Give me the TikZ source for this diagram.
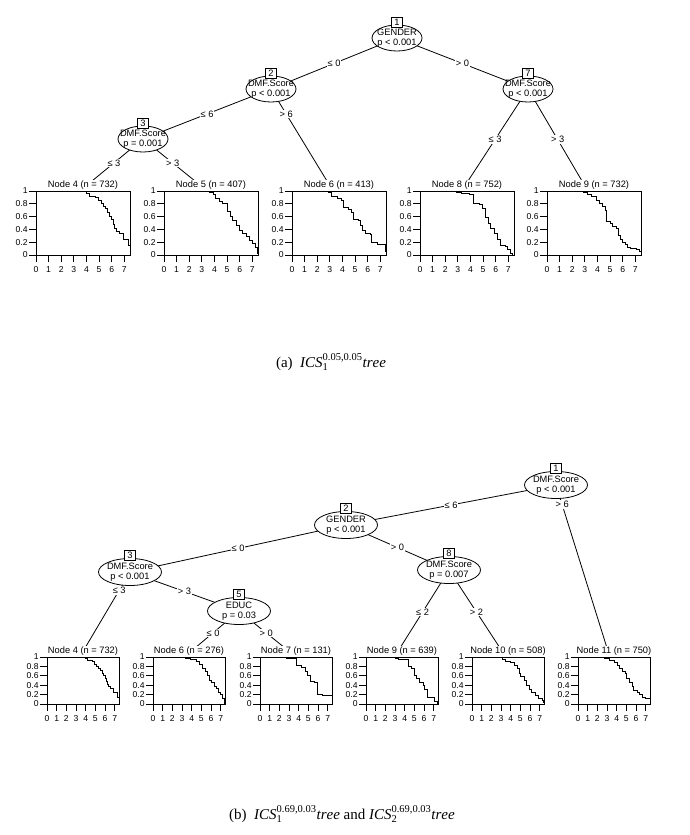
\documentclass[tikz,border=0pt]{standalone}
\usepackage{fontspec}
\setmainfont{Liberation Serif}
\setsansfont{Liberation Sans}
\usetikzlibrary{shapes.geometric,backgrounds}

\newcommand{\capsub}{\fontsize{10.5}{12}\selectfont}
\newcommand{\kmpanel}[7]{%
    \pgfmathsetmacro{\kmunit}{#4/7.45}%
    \begin{scope}[shift={(#2,#3)},x=\kmunit pt,y=#5pt]
        \draw[kmbox] (0,0) rectangle (7.45,1);
        \draw[kmline,const plot] plot coordinates {#7};
        \node[kmtitle,anchor=south] (#1) at (3.725,1) {#6};
        \foreach \tk in {0,...,7}
            \draw[kmbox] (\tk,0) -- ++(0,-7pt) node[kmtick,below=3pt] (#1x\tk) {\tk};
        \foreach \yv/\yk in {0/0,0.2/1,0.4/2,0.6/3,0.8/4,1/5}
            \draw[kmbox] (0,\yv) -- ++(-7pt,0) node[kmtick,left] (#1y\yk) {\yv};
    \end{scope}}

\begin{document}
\begin{tikzpicture}[x=1pt,y=-1pt,
        splitnode/.style={ellipse,draw,fill=white,line width=0.8pt,inner xsep=-10pt,inner ysep=-1pt,align=center,font=\sffamily\fontsize{9.3}{10}\selectfont},
        numbox/.style={draw,fill=white,line width=0.8pt,minimum width=11pt,minimum height=10pt,inner sep=0pt,font=\sffamily\fontsize{9.3}{10}\selectfont},
        elab/.style={fill=white,inner sep=1pt,font=\sffamily\fontsize{9.3}{10}\selectfont},
        edge/.style={line width=0.8pt},
        kmbox/.style={line width=0.8pt},
        kmline/.style={line width=0.9pt},
        kmtitle/.style={fill=white,inner sep=1pt,font=\sffamily\fontsize{9.3}{10}\selectfont},
        kmtick/.style={inner sep=1pt,font=\sffamily\fontsize{8.6}{9}\selectfont},
        capt/.style={inner sep=0pt,font=\fontsize{15}{18}\selectfont}]
    \useasboundingbox (0,0) rectangle (689,835);

    \node[splitnode,minimum width=50pt,minimum height=26pt] (a1) at (397,38) {GENDER\\p < 0.001};
    \node[splitnode,minimum width=50pt,minimum height=26pt] (a2) at (271,89) {DMF.Score\\p < 0.001};
    \node[splitnode,minimum width=50pt,minimum height=26pt] (a7) at (528,89) {DMF.Score\\p < 0.001};
    \node[splitnode,minimum width=50pt,minimum height=26pt] (a3) at (143,139) {DMF.Score\\p = 0.001};
    \node[numbox,anchor=south] (a1n) at ([yshift=-3pt]a1.north) {1};
    \node[numbox,anchor=south] (a2n) at ([yshift=-3pt]a2.north) {2};
    \node[numbox,anchor=south] (a7n) at ([yshift=-3pt]a7.north) {7};
    \node[numbox,anchor=south] (a3n) at ([yshift=-3pt]a3.north) {3};
    \coordinate (ae4) at (92,181);
    \coordinate (ae5) at (195,181);
    \coordinate (ae6) at (327,181);
    \coordinate (ae8) at (468,181);
    \coordinate (ae9) at (582,181);

    \kmpanel{at4}{36}{255}{94}{64}{Node 4 (n = 732)}{(0,1) (3.6,0.99) (4.0,0.96) (4.2,0.92) (4.7,0.9) (4.95,0.85) (5.15,0.8) (5.35,0.76) (5.5,0.72) (5.7,0.66) (5.85,0.6) (6.0,0.55) (6.1,0.48) (6.25,0.41) (6.4,0.37) (6.6,0.33) (6.9,0.25) (7.3,0.15) (7.45,0.15)}
    \kmpanel{at5}{164}{255}{94}{64}{Node 5 (n = 407)}{(0,1) (2.75,0.99) (3.6,0.97) (3.95,0.94) (4.1,0.89) (4.4,0.84) (4.65,0.8) (5.05,0.68) (5.3,0.6) (5.45,0.54) (5.75,0.46) (5.95,0.38) (6.25,0.33) (6.5,0.29) (6.75,0.22) (7.0,0.18) (7.25,0.12) (7.38,0.03) (7.45,0.03)}
    \kmpanel{at6}{292}{255}{94}{64}{Node 6 (n = 413)}{(0,1) (2.85,0.97) (3.1,0.92) (3.6,0.88) (3.95,0.86) (4.1,0.74) (4.5,0.71) (4.75,0.66) (4.9,0.56) (5.3,0.54) (5.4,0.46) (5.6,0.38) (5.85,0.33) (6.25,0.32) (6.3,0.2) (6.8,0.17) (7.35,0.16) (7.42,0.05) (7.45,0.05)}
    \kmpanel{at8}{420}{255}{94}{64}{Node 8 (n = 752)}{(0,1) (2.9,0.98) (3.3,0.96) (3.9,0.95) (4.25,0.8) (4.7,0.79) (4.95,0.72) (5.15,0.58) (5.4,0.5) (5.55,0.42) (5.9,0.33) (6.1,0.24) (6.4,0.15) (6.8,0.13) (6.95,0.08) (7.15,0.03) (7.35,0.0) (7.45,0)}
    \kmpanel{at9}{547}{255}{94}{64}{Node 9 (n = 732)}{(0,1) (2.85,0.98) (3.2,0.94) (3.5,0.91) (3.9,0.86) (4.15,0.8) (4.4,0.76) (4.6,0.7) (4.75,0.52) (5.05,0.5) (5.2,0.45) (5.5,0.42) (5.65,0.3) (5.85,0.24) (6.0,0.2) (6.2,0.17) (6.4,0.12) (6.65,0.1) (7.05,0.08) (7.3,0.05) (7.45,0.05)}

    \begin{scope}[on background layer]
        \draw[edge] (a1.center) -- node[elab,pos=0.5] {≤ 0} (a2.center);
        \draw[edge] (a1.center) -- node[elab,pos=0.5] {> 0} (a7.center);
        \draw[edge] (a2.center) -- node[elab,pos=0.5] {≤ 6} (a3.center);
        \draw[edge] (a2.center) -- node[elab,pos=0.27] {> 6} (ae6);
        \draw[edge] (a3.center) -- node[elab,pos=0.57] {≤ 3} (ae4);
        \draw[edge] (a3.center) -- node[elab,pos=0.57] {> 3} (ae5);
        \draw[edge] (a7.center) -- node[elab,pos=0.55] {≤ 3} (ae8);
        \draw[edge] (a7.center) -- node[elab,pos=0.55] {> 3} (ae9);
    \end{scope}

    \node[capt,anchor=base] (capa) at (331,367) {(a)\enspace$\mathit{ICS}_{\mbox{\capsub 1}}^{\mbox{\capsub 0.05,0.05}}\mathit{tree}$};

    \node[splitnode,minimum width=63pt,minimum height=27pt] (b1) at (556,485) {DMF.Score\\p < 0.001};
    \node[splitnode,minimum width=63pt,minimum height=27pt] (b2) at (346,525) {GENDER\\p < 0.001};
    \node[splitnode,minimum width=63pt,minimum height=27pt] (b3) at (130,572) {DMF.Score\\p < 0.001};
    \node[splitnode,minimum width=63pt,minimum height=27pt] (b5) at (239,611) {EDUC\\p = 0.03};
    \node[splitnode,minimum width=63pt,minimum height=27pt] (b8) at (449,570) {DMF.Score\\p = 0.007};
    \node[numbox,anchor=south] (b1n) at ([yshift=-3pt]b1.north) {1};
    \node[numbox,anchor=south] (b2n) at ([yshift=-3pt]b2.north) {2};
    \node[numbox,anchor=south] (b3n) at ([yshift=-3pt]b3.north) {3};
    \node[numbox,anchor=south] (b5n) at ([yshift=-3pt]b5.north) {5};
    \node[numbox,anchor=south] (b8n) at ([yshift=-3pt]b8.north) {8};
    \coordinate (be4) at (85,648);
    \coordinate (be6) at (195,648);
    \coordinate (be7) at (285,648);
    \coordinate (be9) at (400,648);
    \coordinate (be10) at (500,648);
    \coordinate (be11) at (607,648);

    \kmpanel{bt4}{47}{704}{72}{47}{Node 4 (n = 732)}{(0,1) (3.6,0.99) (4.0,0.96) (4.2,0.92) (4.7,0.9) (4.95,0.85) (5.15,0.8) (5.35,0.76) (5.5,0.72) (5.7,0.66) (5.85,0.6) (6.0,0.55) (6.1,0.48) (6.25,0.41) (6.4,0.37) (6.6,0.33) (6.9,0.25) (7.3,0.15) (7.45,0.15)}
    \kmpanel{bt6}{153}{704}{72}{47}{Node 6 (n = 276)}{(0,1) (2.9,0.98) (3.4,0.96) (3.9,0.94) (4.45,0.9) (4.8,0.84) (5.1,0.76) (5.4,0.7) (5.65,0.6) (5.8,0.5) (6.0,0.45) (6.35,0.38) (6.6,0.34) (6.8,0.25) (7.0,0.2) (7.2,0.12) (7.38,0.02) (7.45,0.02)}
    \kmpanel{bt7}{260}{704}{72}{47}{Node 7 (n = 131)}{(0,1) (2.7,0.96) (3.75,0.82) (4.3,0.78) (4.7,0.7) (4.95,0.6) (5.2,0.47) (5.65,0.45) (5.9,0.21) (6.5,0.19) (7.45,0.19)}
    \kmpanel{bt9}{366}{704}{72}{47}{Node 9 (n = 639)}{(0,1) (3.0,0.97) (3.4,0.95) (4.35,0.8) (4.7,0.75) (5.0,0.6) (5.25,0.54) (5.55,0.45) (5.9,0.39) (6.05,0.3) (6.4,0.15) (6.95,0.14) (7.1,0.05) (7.35,0.02) (7.45,0.02)}
    \kmpanel{bt10}{472}{704}{72}{47}{Node 10 (n = 508)}{(0,1) (2.75,0.98) (3.2,0.95) (3.5,0.91) (4.0,0.88) (4.4,0.82) (4.7,0.75) (4.9,0.66) (5.05,0.58) (5.4,0.5) (5.6,0.4) (5.95,0.31) (6.2,0.25) (6.55,0.18) (6.9,0.12) (7.25,0.08) (7.4,0.04) (7.45,0.04)}
    \kmpanel{bt11}{578}{704}{72}{47}{Node 11 (n = 750)}{(0,1) (2.7,0.97) (3.25,0.93) (3.75,0.88) (4.1,0.82) (4.3,0.75) (4.6,0.7) (4.9,0.64) (5.05,0.55) (5.3,0.45) (5.6,0.38) (5.7,0.28) (6.15,0.25) (6.35,0.2) (6.7,0.15) (6.95,0.11) (7.45,0.1)}

    \begin{scope}[on background layer]
        \draw[edge] (b1.center) -- node[elab,pos=0.5] {≤ 6} (b2.center);
        \draw[edge] (b1.center) -- node[elab,pos=0.12] {> 6} (be11);
        \draw[edge] (b2.center) -- node[elab,pos=0.5] {≤ 0} (b3.center);
        \draw[edge] (b2.center) -- node[elab,pos=0.5] {> 0} (b8.center);
        \draw[edge] (b3.center) -- node[elab,pos=0.24] {≤ 3} (be4);
        \draw[edge] (b3.center) -- node[elab,pos=0.5] {> 3} (b5.center);
        \draw[edge] (b5.center) -- node[elab,pos=0.59] {≤ 0} (be6);
        \draw[edge] (b5.center) -- node[elab,pos=0.59] {> 0} (be7);
        \draw[edge] (b8.center) -- node[elab,pos=0.54] {≤ 2} (be9);
        \draw[edge] (b8.center) -- node[elab,pos=0.54] {> 2} (be10);
    \end{scope}

    \node[capt,anchor=base] (capb) at (342,819) {(b)\enspace$\mathit{ICS}_{\mbox{\capsub 1}}^{\mbox{\capsub 0.69,0.03}}\mathit{tree}$ and $\mathit{ICS}_{\mbox{\capsub 2}}^{\mbox{\capsub 0.69,0.03}}\mathit{tree}$};
\end{tikzpicture}
\end{document}
